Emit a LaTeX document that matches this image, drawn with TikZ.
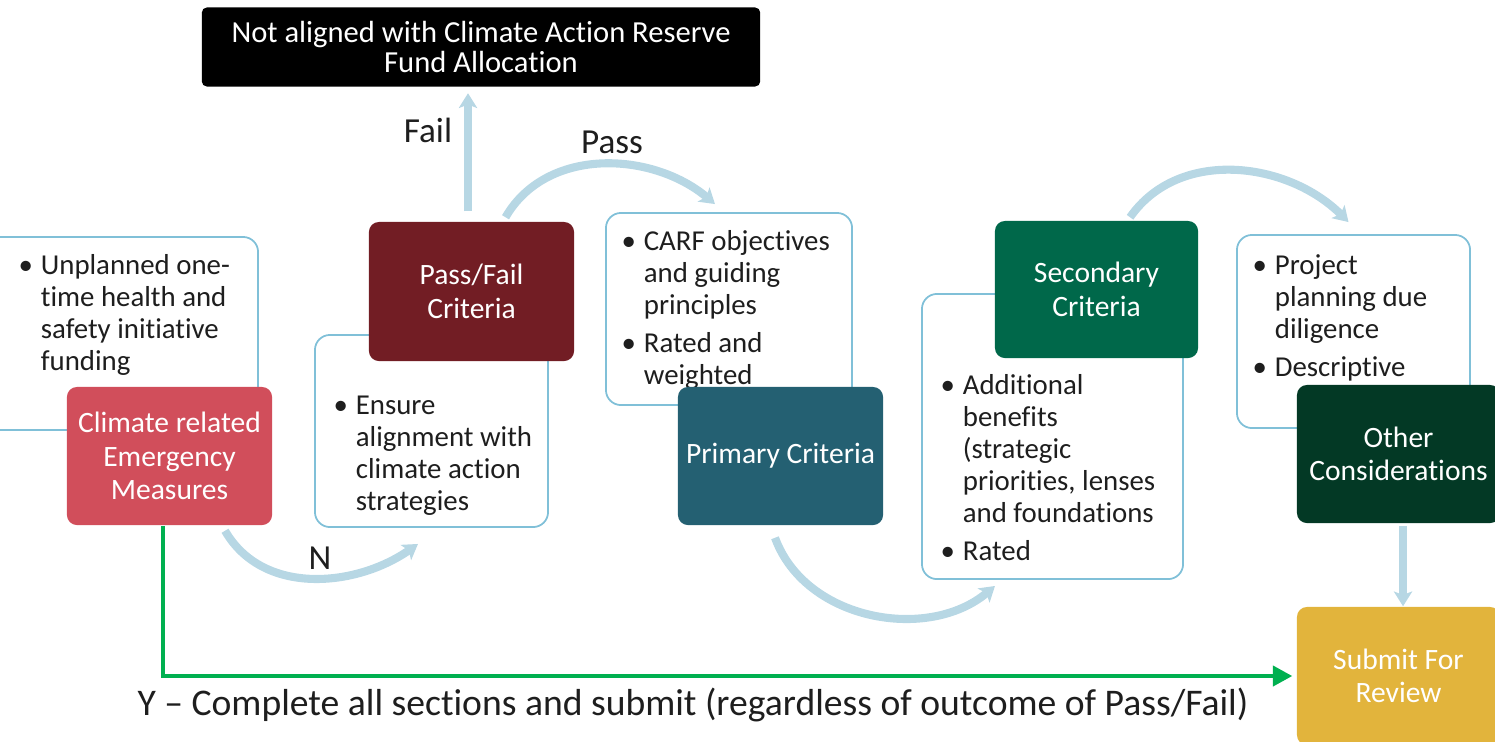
\documentclass[tikz,border=0pt]{standalone}
\usepackage{fontspec}
\setmainfont{Carlito}[Ligatures=NoCommon]
\usepackage{tikz}
\usetikzlibrary{arrows.meta,calc}

\definecolor{emred}{RGB}{209,78,91}
\definecolor{pfred}{RGB}{114,29,36}
\definecolor{primteal}{RGB}{36,96,114}
\definecolor{secgreen}{RGB}{0,104,74}
\definecolor{othgreen}{RGB}{3,57,37}
\definecolor{subgold}{RGB}{226,180,60}
\definecolor{flowblue}{RGB}{183,215,228}
\definecolor{noteblue}{RGB}{128,192,216}
\definecolor{ygreen}{RGB}{0,176,80}
\definecolor{inkgray}{RGB}{30,30,30}

\newenvironment{bullets}{\begin{tabular}{@{}p{6.3pt}@{}l@{}}}{\end{tabular}}

\begin{document}
\begin{tikzpicture}[x=0.01cm,y=0.01cm,
  box/.style={rounded corners=0.1cm, minimum width=2.05cm, minimum height=1.38cm, text=white, align=center, inner sep=0pt, font=\fontsize{8.4}{9.5}\selectfont},
  note/.style={draw=noteblue, line width=0.5pt, fill=white, rounded corners=0.15cm, inner sep=0pt},
  notetext/.style={anchor=north west, inner sep=0pt, text=inkgray, font=\fontsize{8.2}{9.1}\selectfont},
  flow/.style={draw=flowblue, line width=2.3pt, -{Stealth[length=4.2pt,width=5.2pt,inset=1pt]}},
  lbl/.style={text=inkgray, font=\fontsize{10}{12}\selectfont, inner sep=0pt}]
\clip (0,0) rectangle (1495,741);

\node[note, minimum width=2.88cm, minimum height=1.93cm] (b1) at (114,407.5) {};
\node[note, minimum width=2.33cm, minimum height=1.92cm] (b2) at (431.5,310) {};
\node[note, minimum width=2.46cm, minimum height=1.92cm] (b3) at (729,432) {};
\node[note, minimum width=2.61cm, minimum height=2.85cm] (b4) at (1052.5,304.5) {};
\node[note, minimum width=2.33cm, minimum height=1.93cm] (b5) at (1353.5,409.5) {};

\node[notetext] (t1) at (18,489.4) {\begin{bullets}
\textbullet & Unplanned one-\\ & time health and\\ & safety initiative\\ & funding
\end{bullets}};
\node[notetext] (t2) at (333,349.4) {\begin{bullets}
\textbullet & Ensure\\ & alignment with\\ & climate action\\ & strategies
\end{bullets}};
\node[notetext] (t3) at (621,513.4) {\begin{bullets}
\textbullet & CARF objectives\\ & and guiding\\ & principles\\[1.7pt]
\textbullet & Rated and\\ & weighted
\end{bullets}};
\node[notetext] (t4) at (940,369.4) {\begin{bullets}
\textbullet & Additional\\ & benefits\\ & (strategic\\ & priorities, lenses\\ & and foundations\\[1.7pt]
\textbullet & Rated
\end{bullets}};
\node[notetext] (t5) at (1252,489.4) {\begin{bullets}
\textbullet & Project\\ & planning due\\ & diligence\\[1.7pt]
\textbullet & Descriptive
\end{bullets}};

\node[box, fill=black, rounded corners=0.05cm, minimum width=5.58cm, minimum height=0.79cm, font=\fontsize{8.7}{8.4}\selectfont] (na) at (481,694) {Not aligned with Climate Action Reserve\\Fund Allocation};
\node[box, fill=pfred, minimum height=1.39cm] (pf) at (471.5,449.5) {Pass/Fail\\Criteria};
\node[box, fill=emred] (ce) at (169.5,285) {Climate related\\Emergency\\Measures};
\node[box, fill=primteal] (pc) at (780.5,285) {Primary Criteria};
\node[box, fill=secgreen, minimum width=2.03cm, minimum height=1.37cm] (sc) at (1096.5,451.5) {Secondary\\Criteria};
\node[box, fill=othgreen, minimum width=2.03cm] (oc) at (1398.5,287) {Other\\Considerations};
\node[box, fill=subgold, minimum width=2.03cm] (sub) at (1398.5,65) {Submit For\\Review};

\draw[flow, shorten <=0.1cm, shorten >=0.06cm] ([xshift=-0.035cm]pf.north) -- ([xshift=-0.035cm]pf.north |- na.south);
\draw[flow] ([xshift=0.34cm,yshift=0.04cm]pf.north) to[out=60,in=140] ([xshift=-0.14cm,yshift=0.08cm]b3.north);
\draw[flow] ([xshift=0.555cm,yshift=-0.05cm]ce.south) to[out=-60,in=-145] ([xshift=-0.135cm,yshift=-0.16cm]b2.south);
\draw[flow] ([xshift=-0.055cm,yshift=-0.12cm]pc.south) to[out=-70,in=-140] ([xshift=-0.575cm,yshift=-0.06cm]b4.south);
\draw[flow] ([xshift=0.335cm,yshift=0.03cm]sc.north) to[out=55,in=135] ([xshift=-0.05cm,yshift=0.12cm]b5.north);
\draw[flow, shorten <=0.02cm] ([xshift=0.045cm]oc.south) -- ([xshift=0.045cm]sub.north);
\draw[draw=ygreen, line width=1.1pt, shorten >=0.04cm, -{Triangle[length=5.5pt,width=5.7pt]}] ([xshift=-0.065cm]ce.south) |- (sub.west);

\node[lbl] (fail) at (428,611) {Fail};
\node[lbl] (pass) at (612,599) {Pass};
\node[lbl] (n) at (320,183) {N};
\node[lbl, font=\fontsize{10.7}{12}\selectfont] (y) at (693,36) {Y -- Complete all sections and submit (regardless of outcome of Pass/Fail)};
\end{tikzpicture}
\end{document}
